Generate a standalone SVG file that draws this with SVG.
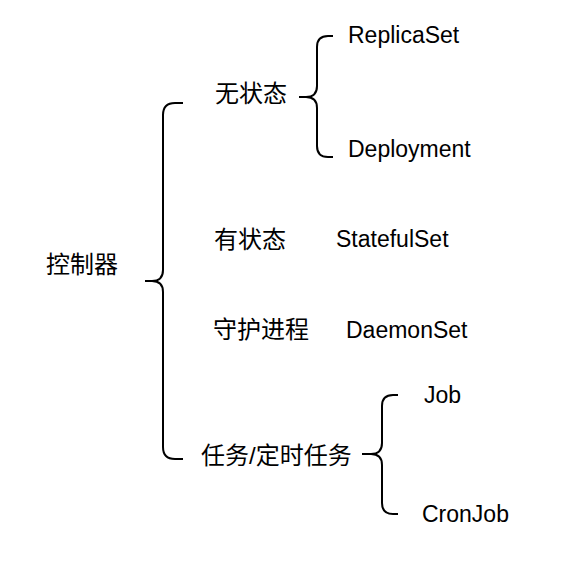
<svg xmlns="http://www.w3.org/2000/svg" width="574" height="568" viewBox="0 0 574 568">
<style>
.t{font-family:"Liberation Sans","Noto Sans CJK SC",sans-serif;font-size:23px;fill:#000}
.c{font-size:24px}
.b{fill:none;stroke:#000;stroke-width:2;stroke-linecap:butt}
</style>
<rect width="574" height="568" fill="#fff"/>
<g id="connectors">
<path class="b" d="M183,103 H175 Q163,103 163,115 V270 Q163,281 152,281 H145 M152,281 Q163,281 163,292 V447 Q163,459 175,459 H183"/>
<path class="b" d="M333,36 H328 Q317,36 317,47 V86 Q317,97 306,97 H299 M306,97 Q317,97 317,108 V146 Q317,157 328,157 H333"/>
<path class="b" d="M398,395 H393 Q382,395 382,406 V443 Q382,454 371,454 H362 M371,454 Q382,454 382,465 V503 Q382,514 393,514 H398"/>
</g>
<g id="n-controller"><text class="t c" x="46" y="273">控制器</text></g>
<g id="n-stateless"><text class="t c" x="215" y="102">无状态</text></g>
<g id="n-replicaset"><text class="t" x="348" y="43">ReplicaSet</text></g>
<g id="n-deployment"><text class="t" x="348" y="157">Deployment</text></g>
<g id="n-stateful"><text class="t c" x="214" y="248">有状态</text></g>
<g id="n-statefulset"><text class="t" x="336" y="247">StatefulSet</text></g>
<g id="n-daemon"><text class="t c" x="213" y="338">守护进程</text></g>
<g id="n-daemonset"><text class="t" x="346" y="338">DaemonSet</text></g>
<g id="n-job-group"><text class="t c" x="201" y="464">任务/定时任务</text></g>
<g id="n-job"><text class="t" x="424" y="403">Job</text></g>
<g id="n-cronjob"><text class="t" x="422" y="522">CronJob</text></g>
</svg>
